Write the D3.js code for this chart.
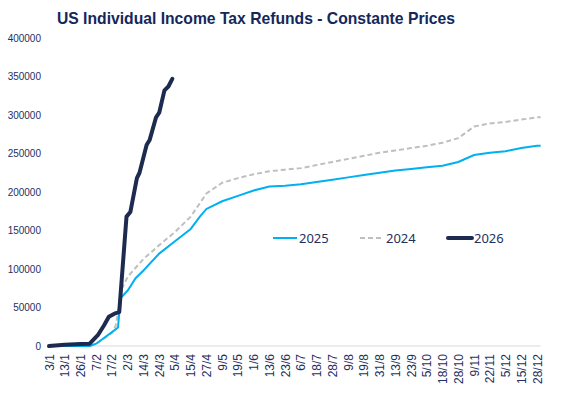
<!DOCTYPE html>
<html>
<head>
<meta charset="utf-8">
<script src="https://cdn.jsdelivr.net/npm/d3@7"></script>
<style>
  body { margin: 0; background: #fff; }
  svg { display: block; }
</style>
</head>
<body>
<div class="chart"></div>
<script>
// tick labels on the x axis (day/month), equally spaced
const tickLabels = ['3/1','13/1','26/1','7/2','17/2','2/3','14/3','24/3','5/4','15/4','27/4','9/5','19/5','1/6',
  '13/6','23/6','6/7','18/7','28/7','9/8','19/8','31/8','13/9','23/9','5/10','18/10','28/10','9/11','22/11','5/12','15/12','28/12'];

const yTicks = [0, 50000, 100000, 150000, 200000, 250000, 300000, 350000, 400000];

// series: [day/month, cumulative refunds]
const s2025 = [
  ['3/1',0],['13/1',0],['26/1',0],['2/2',0],['7/2',3000],['17/2',18000],['22/2',24000],['24/2',62000],
  ['2/3',72000],['8/3',88000],['14/3',98000],['24/3',120000],['5/4',136000],['15/4',152000],['22/4',168000],['27/4',178000],
  ['9/5',188000],['19/5',195000],['1/6',202000],['13/6',207000],['23/6',208000],['6/7',210000],
  ['18/7',213000],['28/7',216000],['9/8',219000],['19/8',222000],['31/8',225000],['13/9',228000],
  ['23/9',230000],['5/10',232000],['18/10',234000],['28/10',239000],['9/11',248000],['22/11',251000],
  ['5/12',253000],['15/12',257000],['28/12',260000],['31/12',260000]
];

const s2024 = [
  ['3/1',0],['13/1',0],['26/1',0],['2/2',0],['7/2',3000],['17/2',17000],['20/2',26000],['22/2',43000],
  ['25/2',74000],['2/3',90000],['14/3',113000],['24/3',131000],['5/4',148000],['15/4',168000],
  ['27/4',198000],['9/5',212000],['19/5',218000],['1/6',223000],['13/6',227000],['23/6',229000],
  ['6/7',231000],['18/7',235000],['28/7',239000],['9/8',243000],['19/8',247000],['31/8',251000],
  ['13/9',254000],['23/9',257000],['5/10',260000],['18/10',264000],['28/10',270000],['9/11',285000],
  ['22/11',289000],['5/12',291000],['15/12',294000],['28/12',297000],['31/12',297000]
];

const s2026 = [
  ['3/1',0],['13/1',1500],['26/1',2500],['2/2',3000],['8/2',14000],['12/2',27000],['15/2',38000],
  ['19/2',42000],['23/2',44000],['1/3',168000],['4/3',174000],['9/3',218000],['11/3',225000],
  ['16/3',261000],['18/3',268000],['22/3',297000],['24/3',303000],['28/3',332000],['31/3',337000],
  ['3/4',347000]
];

const width = 564;
const height = 401;
const navy = '#1c2b4f';
const parse = d3.timeParse('%d/%m/%Y');
const toDate = s => parse(s + '/2025');

const x0 = 49, x1 = 537;
const step = (x1 - x0) / (tickLabels.length - 1);
const x = d3.scaleTime()
  .domain(tickLabels.map(toDate))
  .range(tickLabels.map((d, i) => x0 + i * step));

const y = d3.scaleLinear().domain([0, 400000]).range([346, 38]);

const svg = d3.select('.chart')
  .append('svg')
  .attr('width', width)
  .attr('height', height)

svg.append('text')
  .attr('x', 256)
  .attr('y', 24)
  .attr('text-anchor', 'middle')
  .attr('font-family', 'Liberation Sans, Arial, sans-serif')
  .attr('font-weight', 'bold')
  .attr('font-size', 15.7)
  .attr('fill', '#14275a')
  .text('US Individual Income Tax Refunds - Constante Prices');

// y labels
svg.selectAll('.ylab')
  .data(yTicks)
  .enter()
  .append('text')
  .attr('class', 'ylab')
  .attr('x', 41)
  .attr('y', d => y(d) + 3.5)
  .attr('text-anchor', 'end')
  .attr('font-family', 'Liberation Sans, Arial, sans-serif')
  .attr('font-size', 10)
  .attr('fill', '#1f3060')
  .text(d => d);

// x axis line
svg.append('line')
  .attr('x1', x(toDate('2/1')) + 1)
  .attr('x2', x(toDate('31/12')))
  .attr('y1', y(0))
  .attr('y2', y(0))
  .attr('stroke', '#d9d9d9')
  .attr('stroke-width', 1);

// x labels, rotated
svg.selectAll('.xlab')
  .data(tickLabels)
  .enter()
  .append('text')
  .attr('class', 'xlab')
  .attr('transform', d => `translate(${x(toDate(d)) + 4.5},354) rotate(-90)`)
  .attr('text-anchor', 'end')
  .attr('font-family', 'Liberation Sans, Arial, sans-serif')
  .attr('font-size', 12)
  .attr('fill', '#1f3060')
  .text(d => d);

const line = d3.line()
  .x(d => x(toDate(d[0])))
  .y(d => y(d[1]));

svg.append('path')
  .datum(s2024)
  .attr('d', line)
  .attr('fill', 'none')
  .attr('stroke', '#bfbfbf')
  .attr('stroke-width', 2)
  .attr('stroke-dasharray', '5,3');

svg.append('path')
  .datum(s2025)
  .attr('d', line)
  .attr('fill', 'none')
  .attr('stroke', '#00b0f0')
  .attr('stroke-width', 2);

svg.append('path')
  .datum(s2026)
  .attr('d', line)
  .attr('fill', 'none')
  .attr('stroke', navy)
  .attr('stroke-width', 4)
  .attr('stroke-linejoin', 'round')
  .attr('stroke-linecap', 'round');

// legend
const legend = [
  {name: '2025', color: '#00b0f0', w: 2, dash: null, lx: 273},
  {name: '2024', color: '#bfbfbf', w: 2, dash: '5,3', lx: 360},
  {name: '2026', color: navy, w: 4, dash: null, lx: 448}
];

const lg = svg.selectAll('.leg')
  .data(legend)
  .enter()
  .append('g')
  .attr('class', 'leg')
  .attr('transform', d => `translate(${d.lx},238)`);

lg.append('line')
  .attr('x1', 0)
  .attr('x2', 24)
  .attr('stroke', d => d.color)
  .attr('stroke-width', d => d.w)
  .attr('stroke-dasharray', d => d.dash)
  .attr('stroke-linecap', d => d.w > 2 ? 'round' : 'butt');

lg.append('text')
  .attr('x', 26)
  .attr('y', 5)
  .attr('font-family', 'Noto Sans, sans-serif')
  .attr('font-size', 13)
  .attr('fill', '#1f3060')
  .text(d => d.name);
</script>
</body>
</html>
